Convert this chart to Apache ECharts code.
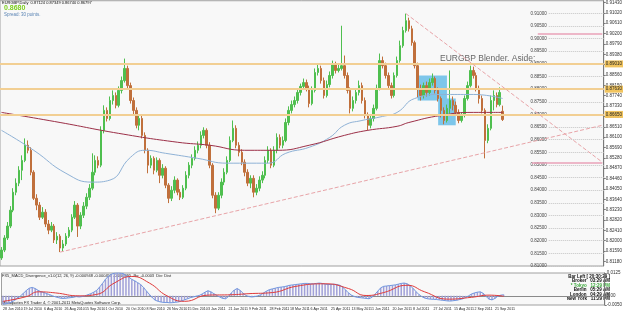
<!DOCTYPE html>
<html>
<head>
<meta charset="utf-8">
<script src="https://cdn.jsdelivr.net/npm/echarts@6/dist/echarts.min.js"></script>
<style>
  html, body { margin: 0; padding: 0; background: #fff; }
  #chart { width: 625px; height: 315px; }
</style>
</head>
<body>
<div id="chart"></div>
<script>
// EURGBP daily, one candle per two sessions: [open, close, low, high]
const candles = [
  [0.8132,0.8163,0.8124,0.8175],[0.8163,0.8211,0.8155,0.8222],[0.8211,0.8258,0.8203,0.8274],[0.8258,0.8321,0.8250,0.8337],
  [0.8321,0.8392,0.8313,0.8408],[0.8392,0.8428,0.8380,0.8447],[0.8428,0.8479,0.8416,0.8495],[0.8479,0.8518,0.8440,0.8538],
  [0.8518,0.8578,0.8511,0.8605],[0.8578,0.8558,0.8546,0.8597],[0.8558,0.8471,0.8459,0.8570],[0.8471,0.8368,0.8361,0.8479],
  [0.8368,0.8341,0.8321,0.8384],[0.8341,0.8293,0.8282,0.8353],[0.8293,0.8313,0.8286,0.8333],[0.8313,0.8266,0.8254,0.8325],
  [0.8266,0.8242,0.8226,0.8282],[0.8242,0.8258,0.8234,0.8274],[0.8258,0.8203,0.8191,0.8266],[0.8203,0.8218,0.8187,0.8234],
  [0.8218,0.8171,0.8155,0.8226],[0.8171,0.8187,0.8159,0.8203],[0.8187,0.8218,0.8179,0.8230],[0.8218,0.8242,0.8211,0.8254],
  [0.8242,0.8293,0.8234,0.8305],[0.8293,0.8341,0.8286,0.8357],[0.8341,0.8258,0.8215,0.8349],[0.8258,0.8301,0.8246,0.8313],
  [0.8301,0.8337,0.8290,0.8353],[0.8337,0.8372,0.8325,0.8388],[0.8372,0.8408,0.8361,0.8424],[0.8408,0.8471,0.8400,0.8546],
  [0.8471,0.8518,0.8459,0.8538],[0.8518,0.8499,0.8487,0.8534],[0.8499,0.8637,0.8491,0.8653],[0.8637,0.8716,0.8625,0.8736],
  [0.8716,0.8684,0.8672,0.8728],[0.8684,0.8755,0.8676,0.8771],[0.8755,0.8775,0.8739,0.8795],[0.8775,0.8736,0.8724,0.8787],
  [0.8736,0.8795,0.8728,0.8811],[0.8795,0.8834,0.8783,0.8850],[0.8834,0.8882,0.8826,0.8921],[0.8882,0.8814,0.8803,0.8893],
  [0.8814,0.8755,0.8743,0.8826],[0.8755,0.8716,0.8700,0.8767],[0.8716,0.8657,0.8645,0.8728],[0.8657,0.8684,0.8637,0.8700],
  [0.8684,0.8617,0.8605,0.8696],[0.8617,0.8558,0.8546,0.8629],[0.8558,0.8499,0.8467,0.8566],[0.8499,0.8526,0.8487,0.8538],
  [0.8526,0.8479,0.8463,0.8534],[0.8479,0.8518,0.8471,0.8530],[0.8518,0.8459,0.8428,0.8526],[0.8459,0.8487,0.8447,0.8503],
  [0.8487,0.8420,0.8408,0.8495],[0.8420,0.8368,0.8349,0.8428],[0.8368,0.8400,0.8357,0.8416],[0.8400,0.8440,0.8388,0.8455],
  [0.8440,0.8392,0.8380,0.8447],[0.8392,0.8372,0.8361,0.8404],[0.8372,0.8408,0.8365,0.8420],[0.8408,0.8459,0.8400,0.8475],
  [0.8459,0.8499,0.8447,0.8511],[0.8499,0.8526,0.8487,0.8542],[0.8526,0.8558,0.8518,0.8574],[0.8558,0.8578,0.8546,0.8593],
  [0.8578,0.8617,0.8566,0.8633],[0.8617,0.8637,0.8605,0.8649],[0.8637,0.8578,0.8566,0.8645],[0.8578,0.8499,0.8487,0.8590],
  [0.8499,0.8380,0.8368,0.8507],[0.8380,0.8329,0.8309,0.8392],[0.8329,0.8380,0.8321,0.8392],[0.8380,0.8432,0.8368,0.8447],
  [0.8432,0.8471,0.8420,0.8487],[0.8471,0.8518,0.8463,0.8534],[0.8518,0.8597,0.8511,0.8613],[0.8597,0.8645,0.8590,0.8676],
  [0.8645,0.8578,0.8566,0.8657],[0.8578,0.8550,0.8534,0.8590],[0.8550,0.8511,0.8499,0.8562],[0.8511,0.8471,0.8455,0.8522],
  [0.8471,0.8428,0.8416,0.8483],[0.8428,0.8447,0.8408,0.8459],[0.8447,0.8392,0.8372,0.8459],[0.8392,0.8408,0.8380,0.8424],
  [0.8408,0.8440,0.8396,0.8455],[0.8440,0.8459,0.8428,0.8475],[0.8459,0.8518,0.8447,0.8534],[0.8518,0.8558,0.8507,0.8574],
  [0.8558,0.8499,0.8487,0.8566],[0.8499,0.8558,0.8491,0.8574],[0.8558,0.8609,0.8546,0.8625],[0.8609,0.8578,0.8566,0.8621],
  [0.8578,0.8597,0.8566,0.8613],[0.8597,0.8668,0.8590,0.8684],[0.8668,0.8716,0.8657,0.8732],[0.8716,0.8739,0.8704,0.8755],
  [0.8739,0.8755,0.8728,0.8771],[0.8755,0.8787,0.8743,0.8803],[0.8787,0.8811,0.8775,0.8822],[0.8811,0.8826,0.8799,0.8842],
  [0.8826,0.8803,0.8791,0.8838],[0.8803,0.8743,0.8728,0.8814],[0.8743,0.8795,0.8736,0.8811],[0.8795,0.8866,0.8787,0.8882],
  [0.8866,0.8882,0.8854,0.8901],[0.8882,0.8834,0.8822,0.8893],[0.8834,0.8775,0.8763,0.8846],[0.8775,0.8818,0.8767,0.8834],
  [0.8818,0.8854,0.8807,0.8870],[0.8854,0.8897,0.8842,0.8913],[0.8897,0.8874,0.8862,0.8909],[0.8874,0.8882,0.8866,0.8897],
  [0.8882,0.8893,0.8874,0.9051],[0.8893,0.8854,0.8842,0.8933],[0.8854,0.8795,0.8783,0.8866],[0.8795,0.8724,0.8704,0.8807],
  [0.8724,0.8755,0.8712,0.8771],[0.8755,0.8787,0.8743,0.8803],[0.8787,0.8814,0.8775,0.8834],[0.8814,0.8755,0.8743,0.8826],
  [0.8755,0.8696,0.8684,0.8767],[0.8696,0.8657,0.8637,0.8708],[0.8657,0.8684,0.8645,0.8700],[0.8684,0.8724,0.8672,0.8739],
  [0.8724,0.8803,0.8716,0.8818],[0.8803,0.8913,0.8795,0.8941],[0.8913,0.8893,0.8882,0.8929],[0.8893,0.8854,0.8842,0.8905],
  [0.8854,0.8814,0.8803,0.8866],[0.8814,0.8775,0.8763,0.8826],[0.8775,0.8854,0.8767,0.8866],[0.8854,0.8913,0.8846,0.8929],
  [0.8913,0.8972,0.8905,0.8992],[0.8972,0.9032,0.8964,0.9047],[0.9032,0.9071,0.9024,0.9099],[0.9071,0.9039,0.9028,0.9083],
  [0.9039,0.8984,0.8972,0.9051],[0.8984,0.8893,0.8882,0.8992],[0.8893,0.8803,0.8767,0.8905],[0.8803,0.8775,0.8755,0.8818],
  [0.8775,0.8814,0.8763,0.8826],[0.8814,0.8787,0.8771,0.8830],[0.8787,0.8826,0.8775,0.8842],[0.8826,0.8842,0.8814,0.8862],
  [0.8842,0.8795,0.8783,0.8850],[0.8795,0.8763,0.8751,0.8807],[0.8763,0.8716,0.8688,0.8771],[0.8716,0.8676,0.8661,0.8728],
  [0.8676,0.8724,0.8668,0.8739],[0.8724,0.8755,0.8704,0.8874],[0.8755,0.8736,0.8716,0.8771],[0.8736,0.8708,0.8696,0.8751],
  [0.8708,0.8676,0.8665,0.8720],[0.8676,0.8696,0.8668,0.8708],[0.8696,0.8763,0.8688,0.8775],[0.8763,0.8814,0.8755,0.8830],
  [0.8814,0.8874,0.8807,0.8893],[0.8874,0.8854,0.8842,0.8889],[0.8854,0.8803,0.8791,0.8866],[0.8803,0.8763,0.8743,0.8814],
  [0.8763,0.8716,0.8704,0.8775],[0.8716,0.8597,0.8526,0.8724],[0.8597,0.8645,0.8586,0.8661],[0.8645,0.8755,0.8637,0.8775],
  [0.8755,0.8775,0.8716,0.8795],[0.8775,0.8739,0.8728,0.8787],[0.8739,0.8787,0.8732,0.8807],[0.87124,0.86797,0.86740,0.87349]
];

// bottom time scale, one label every 7 candles
const dateLabels = [
  "28 Jun 2010", "19 Jul 2010", "6 Aug 2010", "26 Aug 2010", "15 Sep 2010", "1 Oct 2010", "20 Oct 2010",
  "8 Nov 2010", "26 Nov 2010", "15 Dec 2010", "3 Jan 2011", "21 Jan 2011", "9 Feb 2011", "28 Feb 2011",
  "18 Mar 2011", "6 Apr 2011", "25 Apr 2011", "13 May 2011", "1 Jun 2011", "20 Jun 2011", "8 Jul 2011",
  "27 Jul 2011", "15 Aug 2011", "2 Sep 2011", "21 Sep 2011"
];

// moving averages: [candle index, price]
const maFast = [[0,0.8637],[11,0.8558],[22,0.8467],[31,0.8432],[37,0.8440],[44,0.8530],[49,0.8558],[56,0.8546],
  [67,0.8526],[77,0.8507],[91,0.8507],[97,0.8546],[105,0.8570],[112,0.8609],[117,0.8657],[123,0.8676],
  [130,0.8692],[135,0.8708],[141,0.8763],[150,0.8779],[161,0.8779],[171,0.8763]];
const maSlow = [[0,0.8708],[20,0.8668],[40,0.8625],[60,0.8590],[71,0.8578],[83,0.8558],[94,0.8558],[105,0.8578],
  [117,0.8617],[125,0.8637],[135,0.8653],[139,0.8668],[150,0.8696],[161,0.8708],[171,0.8708]];

const levels = [0.8901, 0.8763, 0.8665];          // orange horizontal lines
const pinkLevels = [[183, 0.9020], [181, 0.8509]]; // short pink lines on the right
const lastPrice = 0.86797;
const rightTicks = [0.9143,0.9102,0.9061,0.9020,0.8979,0.8938,0.8897,0.8856,0.8815,0.8774,0.8733,0.8692,0.8651,
  0.8610,0.8569,0.8528,0.8487,0.8446,0.8405,0.8364,0.8323,0.8282,0.8241,0.8200,0.8159,0.8118];

// MACD panel
const macdHist = [-0.0046,-0.0044,-0.0040,-0.0034,-0.0024,-0.0012,0.0000,0.0014,0.0030,0.0042,0.0046,0.0040,0.0030,
  0.0022,0.0018,0.0012,0.0006,0.0000,-0.0006,-0.0010,-0.0014,-0.0014,-0.0012,-0.0010,-0.0008,-0.0004,-0.0006,-0.0004,
  0.0000,0.0006,0.0012,0.0020,0.0030,0.0048,0.0068,0.0090,0.0108,0.0118,0.0124,0.0126,0.0125,0.0122,0.0112,0.0102,
  0.0090,0.0082,0.0072,0.0062,0.0046,0.0026,0.0008,-0.0010,-0.0024,-0.0030,-0.0034,-0.0036,-0.0036,-0.0038,-0.0037,
  -0.0035,-0.0033,-0.0028,-0.0022,-0.0016,-0.0010,-0.0006,-0.0002,0.0002,0.0010,0.0020,0.0028,0.0022,0.0012,0.0002,
  -0.0006,-0.0014,-0.0016,-0.0004,0.0016,0.0032,0.0040,0.0030,0.0014,0.0002,-0.0004,-0.0006,-0.0004,0.0000,0.0006,
  0.0016,0.0026,0.0034,0.0038,0.0042,0.0046,0.0048,0.0050,0.0054,0.0058,0.0060,0.0062,0.0064,0.0066,0.0068,0.0068,
  0.0066,0.0066,0.0068,0.0070,0.0068,0.0064,0.0062,0.0062,0.0064,0.0062,0.0058,0.0048,0.0032,0.0016,0.0004,-0.0004,
  -0.0008,-0.0010,-0.0012,-0.0014,-0.0016,-0.0008,0.0008,0.0026,0.0044,0.0052,0.0054,0.0056,0.0058,0.0060,0.0064,
  0.0068,0.0070,0.0066,0.0056,0.0042,0.0024,0.0008,-0.0004,-0.0012,-0.0016,-0.0018,-0.0019,-0.0020,-0.0022,-0.0024,
  -0.0026,-0.0028,-0.0028,-0.0026,-0.0024,-0.0020,-0.0016,-0.0008,0.0000,0.0010,0.0016,0.0020,0.0022,0.0014,-0.0004,
  -0.0018,-0.0022,-0.0014,-0.0002,0.0004,0.0006];
const macdSignal = [[0,-0.0030],[8,-0.0004],[12,0.0022],[18,0.0016],[26,0.0000],[32,0.0008],[38,0.0070],[44,0.0106],
  [50,0.0070],[56,0.0000],[62,-0.0030],[70,0.0004],[78,0.0006],[84,0.0012],[92,0.0018],[100,0.0052],[110,0.0066],
  [118,0.0040],[124,0.0002],[130,0.0018],[138,0.0058],[144,0.0022],[152,-0.0018],[160,-0.0008],[166,0.0004],[171,-0.0002]];
const macdTicks = [0.0125, 0, -0.005];

const slots = 206; // candle slots across the plot, the right part stays empty
const cats = Array.from({ length: slots }, (_, i) => String(i));
const font = 'Liberation Sans';
const isDateTick = (idx) => idx % 7 === 0 && idx / 7 < dateLabels.length;

const chart = echarts.init(document.getElementById('chart'));

const option = {
  backgroundColor: '#ffffff',
  animation: false,
  textStyle: { fontFamily: font },
  grid: [
    { left: 0, right: 13, top: 0, height: 266, show: true, backgroundColor: '#f8f8f8', borderColor: '#a0a0a0', borderWidth: 1 },
    { left: 0, right: 13, top: 273, height: 32, show: true, backgroundColor: '#f8f8f8', borderColor: '#a0a0a0', borderWidth: 1 }
  ],
  xAxis: [
    { type: 'category', gridIndex: 0, data: cats, boundaryGap: true,
      axisLine: { show: false }, axisTick: { show: false }, axisLabel: { show: false }, splitLine: { show: false } },
    { type: 'category', gridIndex: 1, data: cats, boundaryGap: true,
      axisLine: { lineStyle: { color: '#8a8a8a' } },
      axisTick: { interval: isDateTick, length: 2, lineStyle: { color: '#666' } },
      axisLabel: { interval: isDateTick, showMinLabel: true, hideOverlap: false,
        formatter: (v, idx) => dateLabels[idx / 7] || '',
        fontSize: 3.6, color: '#222', align: 'left', margin: 2 } }
  ],
  yAxis: [
    { // inline price labels with dotted leaders on the right
      type: 'value', gridIndex: 0, min: 0.81, max: 0.915, interval: 0.005, position: 'right', offset: -55,
      axisLine: { show: false },
      axisTick: { show: true, inside: false, length: 55, lineStyle: { color: '#c4c4c4', type: 'dotted' } },
      axisLabel: { inside: true, margin: 2, fontSize: 4.5, color: '#444', showMaxLabel: false,
        formatter: (v) => v.toFixed(5) },
      splitLine: { show: false }
    },
    { // the terminal's own price scale
      type: 'value', gridIndex: 0, min: 0.81, max: 0.915, position: 'right',
      axisLine: { show: true, lineStyle: { color: '#7a7a7a' } },
      axisTick: { show: true, length: 2, customValues: rightTicks, lineStyle: { color: '#7a7a7a' } },
      axisLabel: { customValues: rightTicks, margin: 2, fontSize: 4.5, color: '#333', formatter: (v) => v.toFixed(5) },
      splitLine: { show: false }
    },
    { type: 'value', gridIndex: 1, min: -0.005, max: 0.0125, position: 'right',
      axisLine: { show: true, lineStyle: { color: '#7a7a7a' } },
      axisTick: { show: true, length: 2, customValues: macdTicks },
      axisLabel: { customValues: macdTicks, margin: 2, fontSize: 4.5, color: '#333',
        formatter: (v) => (v === 0 ? '0.00' : v.toFixed(4)) },
      splitLine: { show: false }
    }
  ],
  series: [
    { // blue boxes drawn under the candles
      type: 'line', xAxisIndex: 0, yAxisIndex: 0, data: [], z: 1, silent: true,
      markArea: {
        silent: true,
        itemStyle: { color: '#7dc6ea' },
        data: [
          [{ coord: [142, 0.8854] }, { coord: [152, 0.8755] }],
          [{ coord: [149, 0.8763] }, { coord: [155, 0.8657] }]
        ]
      }
    },
    {
      type: 'candlestick', xAxisIndex: 0, yAxisIndex: 0, data: candles, z: 3, barWidth: 2,
      itemStyle: { color: '#4fbf4f', color0: '#c0703c', borderColor: '#4fbf4f', borderColor0: '#c0703c', borderWidth: 1 },
      markLine: {
        silent: true, symbol: ['none', 'none'],
        data: [
          ...levels.map((v) => ({
            yAxis: v,
            lineStyle: { color: '#f2cf93', width: 2, type: 'solid' },
            label: { show: true, position: 'end', distance: 1, formatter: v.toFixed(5), fontSize: 4.5,
              color: '#222', backgroundColor: '#f1c45e', padding: [1, 1] }
          })),
          {
            yAxis: lastPrice,
            lineStyle: { opacity: 0 },
            label: { show: true, position: 'end', distance: 1, formatter: lastPrice.toFixed(5), fontSize: 4.5,
              color: '#fff', backgroundColor: '#000', padding: [1, 1] }
          },
          ...pinkLevels.map(([i, v]) => [
            { coord: [i, v], lineStyle: { color: '#eaa2b8', width: 1.5, type: 'solid' }, label: { show: false } },
            { coord: [slots - 1, v] }
          ]),
          [
            { coord: [20, 0.8155], lineStyle: { color: '#e8a4a8', width: 1, type: 'dashed' }, label: { show: false } },
            { coord: [slots - 1, 0.8657] }
          ],
          [
            { coord: [138, 0.9099], lineStyle: { color: '#e8a4a8', width: 1, type: 'dashed' }, label: { show: false } },
            { coord: [slots - 1, 0.8511] }
          ]
        ]
      }
    },
    { type: 'line', xAxisIndex: 0, yAxisIndex: 0, data: maFast, smooth: true, symbol: 'none', z: 4,
      lineStyle: { color: '#8fb2d6', width: 1 } },
    { type: 'line', xAxisIndex: 0, yAxisIndex: 0, data: maSlow, smooth: true, symbol: 'none', z: 4,
      lineStyle: { color: '#9c3048', width: 1 } },
    { type: 'bar', xAxisIndex: 1, yAxisIndex: 2, data: macdHist, barWidth: 1.5,
      itemStyle: { color: '#a0a0d8' } },
    { type: 'line', xAxisIndex: 1, yAxisIndex: 2, data: macdHist, symbol: 'none',
      lineStyle: { color: '#7096de', width: 1 } },
    { type: 'line', xAxisIndex: 1, yAxisIndex: 2, data: macdSignal, smooth: true, symbol: 'none',
      lineStyle: { color: '#e03a3a', width: 1 } }
  ],
  graphic: [
    { type: 'text', left: 2, top: 1, style: { text: 'EURGBP,Daily  0.87124 0.87349 0.86740 0.86797', font: '4px ' + font, fill: '#111' } },
    { type: 'text', left: 4, top: 5, style: { text: '0.8680', font: 'bold 7px ' + font, fill: '#7ccf1c' } },
    { type: 'text', left: 4, top: 12, style: { text: 'Spread: 30 points.', font: '4.5px ' + font, fill: '#5a84b4' } },
    { type: 'text', left: 440, top: 54, style: { text: 'EURGBP Blender. Aside:', font: '8.5px ' + font, fill: '#666' } },
    { type: 'text', left: 2, top: 274, style: { text: 'FX5_MACD_Divergence_v1.0(12, 26, 9) -0.000948 -0.000453 -0.000495  Bu: -0.0003  Div: Dist', font: '4px ' + font, fill: '#222' } },
    { type: 'text', left: 2, top: 301, style: { text: 'Metaquotes FX Trader 4, \u00a9 2001-2011 MetaQuotes Software Corp.', font: '4px ' + font, fill: '#222' } },
    { type: 'text', right: 15, top: 274, style: { text: 'Bar Left [ 20:30:29 ]', font: 'bold 4.5px ' + font, fill: '#111', align: 'right' } },
    { type: 'text', right: 15, top: 278.5, style: { text: 'Broker   03:29 AM', font: 'bold 4.5px ' + font, fill: '#111', align: 'right' } },
    { type: 'text', right: 15, top: 283, style: { text: '* Tokyo   12:29 PM', font: 'bold 4.5px ' + font, fill: '#3aa83a', align: 'right' } },
    { type: 'text', right: 15, top: 287.5, style: { text: 'Berlin   05:29 AM', font: 'bold 4.5px ' + font, fill: '#111', align: 'right' } },
    { type: 'text', right: 15, top: 292, style: { text: 'London   04:29 AM', font: 'bold 4.5px ' + font, fill: '#111', align: 'right' } },
    { type: 'text', right: 15, top: 296.5, style: { text: 'New York   11:29 PM', font: 'bold 4.5px ' + font, fill: '#111', align: 'right' } }
  ]
};

chart.setOption(option);
</script>
</body>
</html>
